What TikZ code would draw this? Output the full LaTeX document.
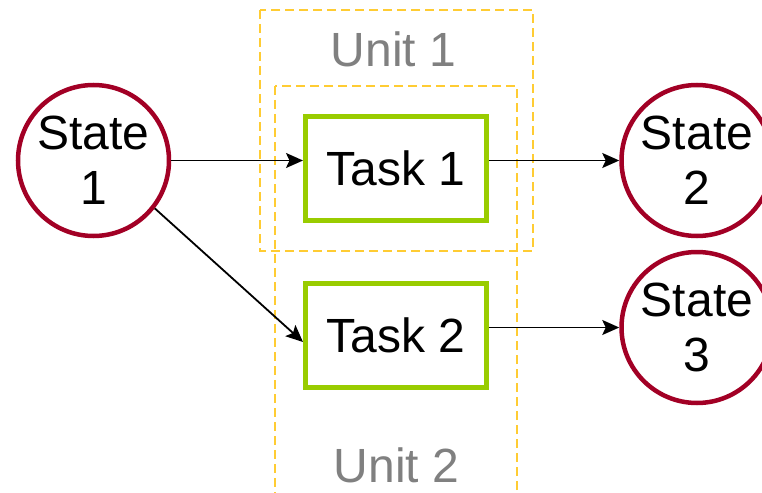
\documentclass[tikz,border=0pt]{standalone}
\usepackage{fontspec}
\setmainfont{Liberation Sans}
\usetikzlibrary{arrows.meta}
\definecolor{stateR}{RGB}{162,0,37}
\definecolor{taskG}{RGB}{153,204,0}
\definecolor{unitY}{RGB}{255,204,51}
\definecolor{unitT}{RGB}{128,128,128}
\tikzset{
  big/.style={font=\fontsize{48}{55}\selectfont},
  state/.style={circle, draw=stateR, line width=4.5pt, minimum size=151pt, inner sep=0pt, align=center, big},
  task/.style={rectangle, draw=taskG, line width=5pt, minimum width=180.5pt, minimum height=104pt, inner sep=0pt, big},
  unit/.style={draw=unitY, line width=2pt, dash pattern=on 9pt off 5pt},
  unitlbl/.style={text=unitT, anchor=base, inner sep=0pt, big},
  flow/.style={-{Stealth[length=17pt, width=15pt, inset=3.5pt]}, line width=1.8pt},
}

\begin{document}
\begin{tikzpicture}[x=1pt, y=-1pt]
  \useasboundingbox (0,0) rectangle (762,492);
  % units
  \draw[unit] (260,10) rectangle (533,251);
  \draw[unit] (275,86) rectangle (517,510);
  \node[unitlbl] (u1) at (393.5,67) {Unit 1};
  \node[unitlbl] (u2) at (396.5,482) {Unit 2};
  % states and tasks
  \node[state] (s1) at (93.5,160.5) {State\\1};
  \node[state] (s2) at (697,160.5) {State\\2};
  \node[state] (s3) at (697,327.5) {State\\3};
  \node[task] (t1) at (395.75,168.5) {Task 1};
  \node[task] (t2) at (395.75,335) {Task 2};
  % flows
  \draw[flow] (s1.east) -- (s1.east -| t1.west);
  \draw[flow] (s1.-38) -- ([yshift=-7pt]t2.west);
  \draw[flow] (t1.east |- s2.west) -- (s2.west);
  \draw[flow] (t2.east |- s3.west) -- (s3.west);
\end{tikzpicture}
\end{document}
